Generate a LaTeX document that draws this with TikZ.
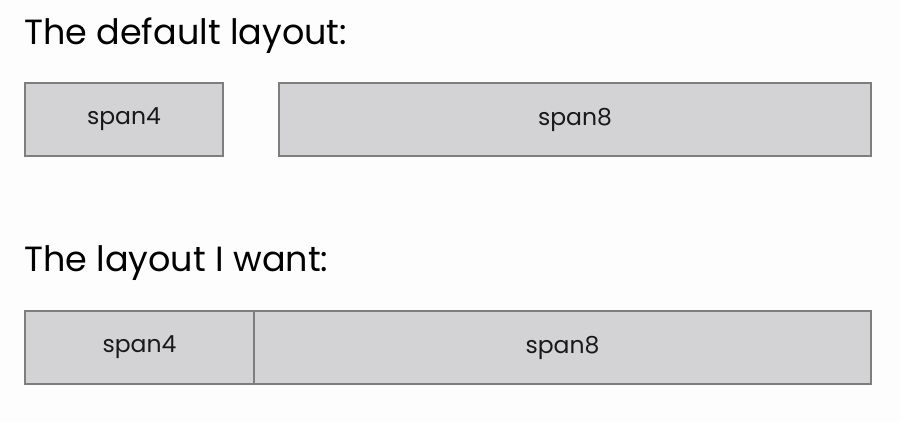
\documentclass[tikz,border=0pt]{standalone}
\usepackage{fontspec}
\setmainfont{Poppins}
\definecolor{bg}{HTML}{FDFDFD}
\definecolor{boxfill}{HTML}{D3D2D4}
\definecolor{boxline}{HTML}{7E7E7E}
\begin{document}
\begin{tikzpicture}[x=1pt,y=-1pt,
  spanbox/.style={draw=boxline,fill=boxfill,line width=1.2pt,inner sep=0pt,font=\fontsize{23.5}{26}\selectfont,text=black!90},
  heading/.style={anchor=base west,inner sep=0pt,font=\fontsize{35}{40}\selectfont,text=black}]
\fill[bg] (0,0) rectangle (900,422);
\useasboundingbox (0,0) rectangle (900,422);
\node[heading] (h1) at (24,45) {The default layout:};
\node[spanbox,minimum width=198pt,minimum height=73pt] (a4) at (124,119.5) {span4};
\node[spanbox,minimum width=592pt,minimum height=73pt] (a8) at (575,119.5) {span8};
\node[heading] (h2) at (24,272) {The layout I want:};
\node[spanbox,minimum width=229pt,minimum height=73pt] (b4) at (139.5,347.5) {span4};
\node[spanbox,minimum width=617pt,minimum height=73pt] (b8) at (562.5,347.5) {span8};
\end{tikzpicture}
\end{document}
